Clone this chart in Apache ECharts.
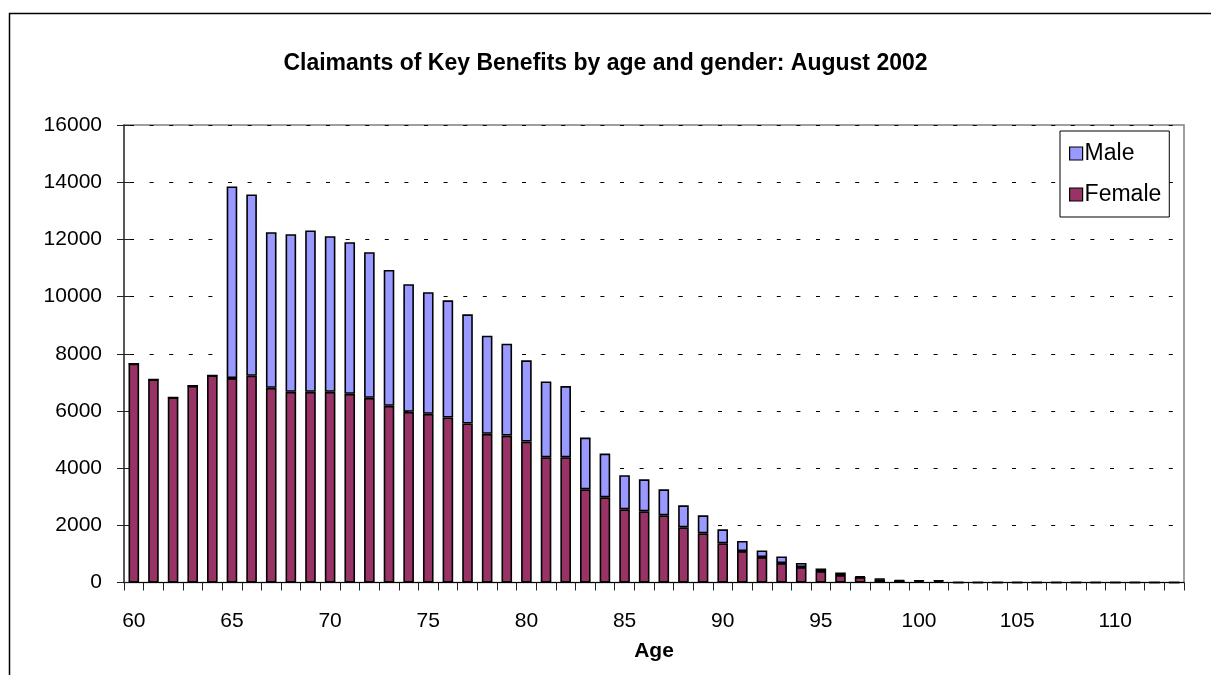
<!DOCTYPE html>
<html>
<head>
<meta charset="utf-8">
<script src="https://cdn.jsdelivr.net/npm/echarts@6/dist/echarts.min.js"></script>
<style>
html,body{margin:0;padding:0;background:#fff;}
#chart{width:1211px;height:675px;}
</style>
</head>
<body>
<div id="chart"></div>
<script>
// ---- data ----
const ages = [];
for (let a = 60; a <= 113; a++) ages.push(String(a));

const female = [7650, 7100, 6470, 6880, 7240, 7150, 7230, 6810, 6670, 6670,
  6670, 6600, 6460, 6180, 5970, 5900, 5770, 5560, 5200, 5140,
  4930, 4380, 4380, 3260, 2980, 2560, 2490, 2350, 1930, 1720,
  1370, 1100, 890, 680, 540, 400, 260, 190, 110, 65,
  55, 55, 0, 0, 0, 0, 0, 0, 0, 0,
  0, 0, 0, 0];

const male = [0, 0, 0, 0, 0, 6700, 6340, 5440, 5510, 5640,
  5440, 5300, 5090, 4750, 4460, 4250, 4100, 3820, 3430, 3210,
  2840, 2650, 2490, 1810, 1530, 1190, 1120, 910, 770, 630,
  490, 355, 230, 230, 145, 90, 90, 25, 20, 15,
  15, 15, 0, 0, 0, 0, 0, 0, 0, 0,
  0, 0, 0, 0];

const yTicks = { min: 0, max: 16000, interval: 2000 };
const titleText = 'Claimants of Key Benefits by age and gender: August 2002';

// ---- chart ----
const FONT = "'Liberation Sans', Arial, sans-serif";
const chart = echarts.init(document.getElementById('chart'), null, { renderer: 'canvas' });

chart.setOption({
  animation: false,
  backgroundColor: '#fff',
  textStyle: { fontFamily: FONT },
  graphic: [{
    type: 'rect',
    shape: { x: 9.5, y: 13.5, width: 1400, height: 900 },
    style: { fill: 'none', stroke: '#000', lineWidth: 1.5 },
    silent: true, z: -10
  }],
  title: {
    text: titleText,
    left: 'center',
    top: 47,
    textStyle: { fontFamily: FONT, fontSize: 23, fontWeight: 'bold', color: '#000' }
  },
  legend: {
    data: ['Male', 'Female'],
    orient: 'vertical',
    left: 1060,
    top: 131,
    itemWidth: 13,
    itemHeight: 13,
    itemGap: 18,
    padding: [11, 8, 11, 9],
    backgroundColor: '#fff',
    borderColor: '#000',
    borderWidth: 1,
    borderRadius: 0,
    icon: 'rect',
    itemStyle: { borderColor: '#000', borderWidth: 1.2 },
    textStyle: { fontFamily: FONT, fontSize: 23, color: '#000', padding: [0, 0, 0, -3] }
  },
  grid: {
    left: 124, top: 125, right: 27, bottom: 92.5,
    show: true, borderColor: '#808080', borderWidth: 1.5, backgroundColor: 'transparent'
  },
  xAxis: {
    type: 'category',
    data: ages,
    boundaryGap: true,
    name: 'Age',
    nameLocation: 'middle',
    nameGap: 58,
    nameTextStyle: { fontFamily: FONT, fontSize: 21, fontWeight: 'bold', color: '#000' },
    axisLine: { lineStyle: { color: '#000', width: 1.2 } },
    axisTick: { show: true, interval: 0, length: 8, lineStyle: { color: '#222' } },
    axisLabel: { interval: 4, margin: 28, fontFamily: FONT, fontSize: 21, color: '#000' },
    splitLine: { show: false }
  },
  yAxis: [{
    type: 'value',
    min: yTicks.min, max: yTicks.max, interval: yTicks.interval,
    axisLine: { show: true, lineStyle: { color: '#404040', width: 1.5 } },
    axisTick: { show: true, length: 7, lineStyle: { color: '#222' } },
    axisLabel: { margin: 22, fontFamily: FONT, fontSize: 21, color: '#000', formatter: v => String(v) },
    splitLine: { show: true, lineStyle: { color: '#000', width: 1, type: [4, 15.6], dashOffset: -6 } }
  }, {
    type: 'value',
    position: 'left',
    min: yTicks.min, max: yTicks.max, interval: yTicks.interval,
    axisLine: { show: false },
    axisTick: { show: true, inside: true, length: 6, lineStyle: { color: '#222' } },
    axisLabel: { show: false },
    splitLine: { show: false }
  }],
  series: [{
    name: 'Female',
    type: 'bar',
    stack: 'all',
    data: female,
    barWidth: '54%',
    itemStyle: { color: '#993366', borderColor: '#000000', borderWidth: 1.6 }
  }, {
    name: 'Male',
    type: 'bar',
    stack: 'all',
    data: male,
    barWidth: '54%',
    itemStyle: { color: '#9999FF', borderColor: '#000000', borderWidth: 1.6 }
  }]
});
</script>
</body>
</html>
